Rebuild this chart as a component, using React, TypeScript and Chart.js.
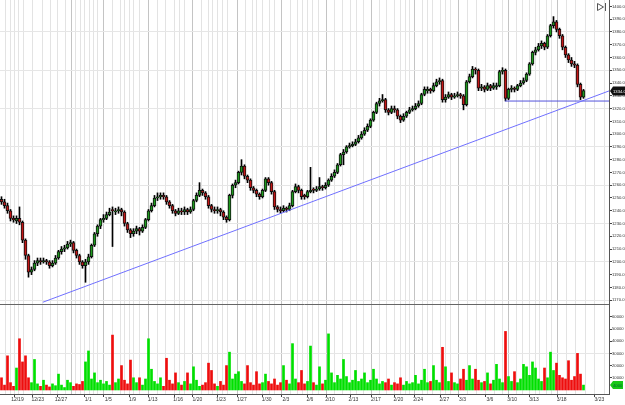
import { useEffect, useRef } from 'react';
import { Chart, registerables } from 'chart.js';

Chart.register(...registerables);

// ---- candle data (one candle per slot on the index axis) ----
const OPENS = [
  1249, 1247, 1244, 1240, 1234, 1232, 1234, 1231, 1217, 1205,
  1192, 1194, 1199, 1201, 1200, 1201, 1200, 1197, 1199, 1203,
  1208, 1210, 1211, 1214, 1215, 1209, 1205, 1200, 1197, 1200,
  1204, 1213, 1222, 1228, 1233, 1234, 1237, 1241, 1239, 1240,
  1241, 1239, 1230, 1225, 1222, 1224, 1226, 1224, 1227, 1233,
  1240, 1244, 1250, 1251, 1252, 1251, 1247, 1244, 1240, 1238,
  1240, 1239, 1241, 1239, 1241, 1248, 1252, 1256, 1254, 1251,
  1244, 1241, 1240, 1241, 1239, 1235, 1233, 1252, 1260, 1262,
  1270, 1275, 1267, 1264, 1258, 1256, 1253, 1251, 1256, 1265,
  1262, 1255, 1243, 1241, 1240, 1242, 1241, 1244, 1255, 1259,
  1256, 1252, 1251, 1255, 1257, 1256, 1257, 1259, 1258, 1260,
  1264, 1267, 1270, 1276, 1284, 1286, 1290, 1291, 1292, 1294,
  1297, 1300, 1303, 1306, 1311, 1317, 1324, 1326, 1327, 1319,
  1317, 1320, 1319, 1314, 1311, 1314, 1317, 1319, 1320, 1322,
  1324, 1331, 1334, 1335, 1334, 1338, 1341, 1342, 1327, 1329,
  1331, 1329, 1330, 1331, 1330, 1323, 1341, 1345, 1351, 1350,
  1336, 1337, 1335, 1338, 1336, 1337, 1338, 1349, 1350, 1328,
  1335, 1336, 1335, 1338, 1340, 1342, 1347, 1355, 1364, 1366,
  1369, 1371, 1368, 1377, 1385, 1388, 1382, 1377, 1368, 1362,
  1358, 1355, 1354, 1339, 1329,
];
const HIGHS = [
  1251, 1249, 1246, 1241, 1236, 1236, 1243, 1232, 1218, 1206,
  1196, 1201, 1203, 1203, 1203, 1202, 1201, 1201, 1205, 1209,
  1212, 1213, 1216, 1217, 1216, 1210, 1206, 1201, 1202, 1206,
  1214, 1223, 1229, 1234, 1237, 1239, 1242, 1243, 1242, 1243,
  1242, 1240, 1231, 1226, 1226, 1228, 1227, 1229, 1234, 1241,
  1246, 1252, 1254, 1254, 1254, 1252, 1248, 1245, 1241, 1242,
  1242, 1243, 1242, 1243, 1249, 1254, 1262, 1257, 1255, 1252,
  1245, 1243, 1243, 1242, 1240, 1236, 1253, 1261, 1264, 1271,
  1280, 1276, 1268, 1265, 1259, 1257, 1254, 1257, 1266, 1266,
  1263, 1256, 1244, 1243, 1244, 1243, 1246, 1256, 1261, 1260,
  1257, 1253, 1256, 1274, 1258, 1259, 1266, 1260, 1262, 1265,
  1269, 1272, 1277, 1285, 1288, 1291, 1293, 1294, 1296, 1299,
  1302, 1305, 1308, 1312, 1318, 1325, 1328, 1331, 1328, 1320,
  1322, 1322, 1320, 1315, 1316, 1318, 1321, 1322, 1324, 1326,
  1332, 1337, 1337, 1336, 1340, 1343, 1344, 1343, 1331, 1333,
  1332, 1332, 1333, 1332, 1331, 1342, 1347, 1353, 1352, 1351,
  1339, 1338, 1340, 1339, 1340, 1340, 1350, 1352, 1351, 1336,
  1338, 1337, 1339, 1342, 1344, 1348, 1356, 1365, 1368, 1371,
  1373, 1372, 1378, 1386, 1392, 1389, 1383, 1378, 1369, 1363,
  1360, 1357, 1355, 1340, 1335,
];
const LOWS = [
  1245, 1242, 1238, 1232, 1231, 1230, 1229, 1215, 1202, 1188,
  1190, 1193, 1197, 1198, 1199, 1198, 1195, 1196, 1198, 1202,
  1206, 1208, 1210, 1212, 1207, 1203, 1198, 1195, 1184, 1198,
  1203, 1212, 1220, 1226, 1231, 1233, 1236, 1212, 1237, 1238,
  1236, 1228, 1223, 1219, 1220, 1222, 1221, 1223, 1226, 1232,
  1239, 1243, 1248, 1249, 1249, 1245, 1242, 1238, 1236, 1237,
  1237, 1237, 1237, 1238, 1240, 1247, 1251, 1252, 1249, 1242,
  1239, 1238, 1238, 1236, 1233, 1231, 1232, 1250, 1258, 1261,
  1268, 1265, 1262, 1256, 1254, 1251, 1249, 1250, 1255, 1260,
  1253, 1241, 1239, 1238, 1239, 1239, 1240, 1243, 1254, 1254,
  1249, 1249, 1250, 1254, 1254, 1255, 1256, 1256, 1257, 1259,
  1263, 1266, 1269, 1275, 1276, 1285, 1289, 1290, 1291, 1293,
  1296, 1299, 1302, 1305, 1310, 1316, 1322, 1325, 1317, 1315,
  1316, 1317, 1312, 1309, 1310, 1313, 1316, 1318, 1319, 1321,
  1323, 1330, 1332, 1332, 1333, 1337, 1339, 1325, 1325, 1328,
  1327, 1328, 1329, 1328, 1319, 1322, 1340, 1344, 1347, 1334,
  1334, 1333, 1334, 1334, 1335, 1335, 1337, 1347, 1326, 1327,
  1333, 1333, 1334, 1337, 1339, 1341, 1346, 1354, 1362, 1365,
  1367, 1366, 1367, 1376, 1383, 1380, 1375, 1366, 1360, 1356,
  1353, 1352, 1337, 1327, 1328,
];
const CLOSES = [
  1247, 1244, 1240, 1234, 1233, 1234, 1231, 1217, 1205, 1192,
  1194, 1199, 1201, 1200, 1201, 1200, 1197, 1199, 1203, 1208,
  1210, 1211, 1214, 1215, 1209, 1205, 1200, 1197, 1200, 1204,
  1213, 1222, 1228, 1233, 1234, 1237, 1239, 1240, 1240, 1241,
  1239, 1230, 1225, 1222, 1224, 1226, 1224, 1227, 1233, 1240,
  1244, 1250, 1251, 1252, 1251, 1247, 1244, 1240, 1238, 1240,
  1239, 1241, 1239, 1241, 1248, 1252, 1256, 1254, 1251, 1244,
  1241, 1240, 1241, 1239, 1235, 1233, 1252, 1260, 1262, 1270,
  1275, 1267, 1264, 1258, 1256, 1253, 1251, 1256, 1265, 1262,
  1255, 1243, 1241, 1240, 1242, 1241, 1244, 1255, 1259, 1256,
  1251, 1251, 1255, 1256, 1256, 1257, 1259, 1258, 1260, 1264,
  1267, 1270, 1276, 1284, 1286, 1290, 1291, 1292, 1294, 1297,
  1300, 1303, 1306, 1311, 1317, 1324, 1326, 1327, 1319, 1317,
  1320, 1319, 1314, 1311, 1314, 1317, 1319, 1320, 1322, 1324,
  1331, 1335, 1335, 1334, 1338, 1341, 1342, 1327, 1329, 1331,
  1329, 1330, 1331, 1330, 1323, 1341, 1345, 1351, 1350, 1336,
  1337, 1335, 1338, 1336, 1338, 1338, 1349, 1350, 1328, 1335,
  1336, 1335, 1338, 1340, 1342, 1347, 1355, 1364, 1366, 1369,
  1371, 1368, 1377, 1385, 1388, 1382, 1377, 1368, 1362, 1358,
  1355, 1354, 1339, 1329, 1334,
];
const VOLUMES = [
  10000, 4000, 28000, 6000, 3000, 18000, 42000, 23000, 28000, 10000,
  6000, 25000, 5000, 3000, 8000, 4000, 2500, 5000, 3500, 13000,
  4000, 2000, 8000, 6000, 3000, 5000, 4500, 7000, 23000, 32000,
  9000, 14000, 6000, 8000, 5000, 7000, 4000, 45000, 6000, 9000,
  20000, 8000, 5000, 24500, 10000, 6000, 10000, 4000, 9000, 42000,
  17000, 7000, 5000, 10000, 3000, 26000, 8000, 5000, 14000, 6000,
  4000, 7000, 14000, 5000, 19000, 8000, 3000, 4000, 6000, 22000,
  16000, 5000, 3000, 7000, 4000, 20000, 31000, 9000, 13000, 15000,
  7000, 5000, 20000, 6000, 4000, 15000, 5000, 6000, 13000, 7000,
  5000, 9000, 4000, 6000, 20000, 8000, 5000, 38000, 9000, 6000,
  16000, 5000, 7000, 36000, 6000, 4000, 19000, 5000, 8000, 46000,
  14000, 6000, 12000, 9000, 25000, 11000, 6000, 8000, 16000, 7000,
  9000, 14000, 6000, 8000, 17000, 9000, 5000, 7000, 6000, 9000,
  4000, 6000, 5000, 10000, 4000, 7000, 5000, 6000, 12000, 5000,
  8000, 17000, 6000, 7000, 20000, 8000, 6000, 35000, 19000, 7000,
  14000, 6000, 5000, 9000, 17000, 8000, 20000, 9000, 17000, 8000,
  6000, 7000, 14000, 5000, 8000, 21000, 9000, 6000, 48000, 11000,
  7000, 15000, 6000, 9000, 21000, 19000, 12000, 23000, 18000, 9000,
  7000, 18000, 10000, 31000, 16000, 22000, 12000, 10000, 9000, 24000,
  8000, 11000, 30000, 13000, 4000,
];

// ---- session boundaries (in candle-slot units) and date labels ----
const SESSION_LINES = [
  0.9, 3.0, 3.7, 5.8, 6.7, 9.1, 12.6, 15.6, 18.1, 20.3, 23.3, 24.1, 26.3, 27.2,
  29.4, 30.0, 32.2, 33.1, 36.1, 38.9, 41.1, 42.0, 44.2, 45.0, 47.8, 50.9, 53.9,
  56.7, 59.4, 60.0, 62.8, 65.8, 68.3, 70.6, 71.3, 73.6, 74.4, 77.4, 80.6, 83.3,
  84.8, 86.4, 88.9, 90.6, 92.2, 95.3, 98.1, 100.0, 101.4, 103.3, 105.0, 107.6,
  110.0, 112.8, 115.6, 117.8, 120.0, 122.2, 125.3, 127.6, 130.0, 132.8, 133.9,
  136.1, 137.2, 139.4, 142.0, 142.8, 145.3, 148.1, 148.7, 151.7, 154.2, 157.2,
  160.3, 163.3, 166.1, 168.6, 170.7, 173.3, 175.0, 178.0, 178.7, 181.1, 183.3,
  184.4, 187.2, 190.3, 193.6, 196.7, 199.8,
];
const WEEK_LINES = [24.1, 36.1, 50.9, 65.8, 80.6, 95.3, 110.0, 125.3, 139.4, 154.2, 170.7, 187.2];
const DATE_TICKS = [
  5.8, 12.6, 20.3, 29.4, 36.1, 44.2, 50.9, 59.4, 65.8, 73.6, 80.6, 88.9, 95.3,
  103.3, 110.0, 117.8, 125.3, 132.8, 139.4, 148.1, 154.2, 163.3, 170.7, 178.0, 187.2, 199.8,
];
const DATE_LABELS = [
  '12/19', '12/23', '12/27', '1/1', '1/5', '1/9', '1/13', '1/16', '1/20', '1/23', '1/27', '1/30', '2/3',
  '2/6', '2/10', '2/13', '2/17', '2/20', '2/24', '2/27', '3/3', '3/6', '3/10', '3/13', '3/18', '3/23',
];

// ---- axes ----
const X_MAX = 203;
const PRICE_MIN = 1167;
const PRICE_MAX = 1405;
const PRICE_TICKS = [
  1170, 1180, 1190, 1200, 1210, 1220, 1230, 1240, 1250, 1260, 1270, 1280,
  1290, 1300, 1310, 1320, 1330, 1340, 1350, 1360, 1370, 1380, 1390, 1400,
];
const PRICE_GRID = [1170, 1200, 1230, 1260, 1290, 1320, 1350, 1380];
const VOLUME_MIN = -3300;
const VOLUME_MAX = 70500;
const VOLUME_TICKS = [10000, 20000, 30000, 40000, 50000, 60000];
const VOLUME_GRID = [30000];

// ---- drawn lines ----
const TREND_X = [14.3, 203];
const TREND_Y = [1168.4, 1333.8];
const SUPPORT_X = [168.3, 203];
const SUPPORT_Y = [1325.9, 1325.9];

const FONT_X = { family: '"Liberation Sans", Arial, sans-serif', size: 5 };
const FONT_Y = { family: '"Liberation Sans", Arial, sans-serif', size: 4.2 };
const UP_BODY = '#1f9a1f';
const DOWN_BODY = '#c41818';
const UP_VOL = '#00e000';
const DOWN_VOL = '#ee0e0e';

const isUp = (i: number) => CLOSES[i] >= OPENS[i];

const overlayPlugin = {
  id: 'overlay',
  afterDraw(chart: any) {
    const ctx = chart.ctx as CanvasRenderingContext2D;
    const area = chart.chartArea;
    const yP = chart.scales.y;
    const yV = chart.scales.y2;
    const lastClose = CLOSES[CLOSES.length - 1];
    const lastVol = VOLUMES[VOLUMES.length - 1];
    ctx.save();
    ctx.font = '4.2px "Liberation Sans", Arial, sans-serif';
    ctx.textBaseline = 'middle';
    // current price marker
    const py = Math.round(yP.getPixelForValue(lastClose));
    const x0 = area.right + 1;
    ctx.fillStyle = '#111';
    ctx.beginPath();
    ctx.moveTo(x0, py);
    ctx.lineTo(x0 + 3, py - 4.5);
    ctx.lineTo(625, py - 4.5);
    ctx.lineTo(625, py + 4.5);
    ctx.lineTo(x0 + 3, py + 4.5);
    ctx.closePath();
    ctx.fill();
    ctx.fillStyle = '#fff';
    ctx.fillText(lastClose.toFixed(1), x0 + 3, py + 0.5);
    // current volume marker
    const vy = Math.round(yV.getPixelForValue(lastVol));
    ctx.fillStyle = '#18c818';
    ctx.beginPath();
    ctx.moveTo(x0, vy);
    ctx.lineTo(x0 + 3, vy - 4);
    ctx.lineTo(623, vy - 4);
    ctx.lineTo(623, vy + 4);
    ctx.lineTo(x0 + 3, vy + 4);
    ctx.closePath();
    ctx.fill();
    ctx.fillStyle = '#063';
    ctx.fillText(String(lastVol), x0 + 3, vy + 0.5);
    // "scroll to end" icon
    ctx.strokeStyle = '#555';
    ctx.lineWidth = 1;
    ctx.beginPath();
    ctx.moveTo(597.5, 3.5);
    ctx.lineTo(603.5, 7);
    ctx.lineTo(597.5, 10.5);
    ctx.closePath();
    ctx.moveTo(605.5, 3);
    ctx.lineTo(605.5, 11);
    ctx.stroke();
    ctx.restore();
  },
};

export default function App() {
  const ref = useRef<HTMLCanvasElement>(null);

  useEffect(() => {
    if (!ref.current) return;
    const idx = CLOSES.map((_, i) => i);
    const chart = new Chart(ref.current, {
      type: 'bar',
      data: {
        datasets: [
          {
            type: 'line',
            label: 'Trend',
            data: TREND_X.map((x, i) => ({ x, y: TREND_Y[i] })),
            yAxisID: 'y',
            borderColor: 'rgb(112,112,255)',
            borderWidth: 1,
            pointRadius: 0,
            order: 0,
          } as any,
          {
            type: 'line',
            label: 'Support',
            data: SUPPORT_X.map((x, i) => ({ x, y: SUPPORT_Y[i] })),
            yAxisID: 'y',
            borderColor: 'rgb(84,84,220)',
            borderWidth: 1,
            pointRadius: 0,
            order: 0,
          } as any,
          {
            type: 'bar',
            label: 'Body',
            data: idx.map((i) => ({ x: i + 0.5, y: [OPENS[i], CLOSES[i]] })),
            yAxisID: 'y',
            backgroundColor: idx.map((i) => (isUp(i) ? UP_BODY : DOWN_BODY)),
            borderColor: '#111',
            borderWidth: 1,
            borderSkipped: false,
            barThickness: 3,
            minBarLength: 1,
            grouped: false,
            order: 1,
          } as any,
          {
            type: 'bar',
            label: 'Wick',
            data: idx.map((i) => ({ x: i + 0.5, y: [LOWS[i], HIGHS[i]] })),
            yAxisID: 'y',
            backgroundColor: '#000',
            barThickness: 1,
            grouped: false,
            order: 2,
          } as any,
          {
            type: 'bar',
            label: 'Volume',
            data: idx.map((i) => ({ x: i + 0.5, y: VOLUMES[i] })),
            yAxisID: 'y2',
            backgroundColor: idx.map((i) => (isUp(i) ? UP_VOL : DOWN_VOL)),
            barThickness: 2,
            grouped: false,
            order: 3,
          } as any,
        ],
      },
      options: {
        responsive: false,
        animation: false,
        devicePixelRatio: 1,
        layout: { padding: 0 },
        plugins: { legend: { display: false }, tooltip: { enabled: false } },
        scales: {
          x: {
            type: 'linear',
            position: 'bottom',
            min: 0,
            max: X_MAX,
            offset: false,
            afterBuildTicks: (scale: any) => {
              scale.ticks = SESSION_LINES.map((v) => ({ value: v }));
            },
            afterFit: (scale: any) => {
              scale.height = 11;
              scale.paddingLeft = 0;
              scale.paddingRight = 0;
            },
            ticks: {
              autoSkip: false,
              maxRotation: 0,
              minRotation: 0,
              padding: 0,
              color: '#333',
              font: FONT_X,
              callback: (v: any) => {
                const k = DATE_TICKS.indexOf(Number(v));
                return k >= 0 ? DATE_LABELS[k] : '';
              },
            },
            grid: {
              color: (c: any) => (WEEK_LINES.includes(c.tick?.value) ? '#c4c4c4' : '#e3e3e3'),
              tickColor: (c: any) => (DATE_TICKS.includes(c.tick?.value) ? '#444' : 'rgba(0,0,0,0)'),
              tickLength: 3,
              lineWidth: 1,
            },
            border: { display: true, color: '#555' },
          },
          y: {
            type: 'linear',
            position: 'right',
            stack: 'panels',
            stackWeight: 304,
            min: PRICE_MIN,
            max: PRICE_MAX,
            afterBuildTicks: (scale: any) => {
              scale.ticks = [PRICE_MIN, ...PRICE_TICKS].map((v) => ({ value: v }));
            },
            afterFit: (scale: any) => {
              scale.width = 16;
              scale.paddingTop = 0;
              scale.paddingBottom = 0;
            },
            ticks: {
              autoSkip: false,
              padding: 0,
              color: '#333',
              font: FONT_Y,
              callback: (v: any) => (Number(v) === PRICE_MIN ? '' : Number(v).toFixed(1)),
            },
            grid: {
              color: (c: any) => {
                const v = c.tick?.value;
                if (v === PRICE_MIN) return '#666';
                return PRICE_GRID.includes(v) ? '#e6e6e6' : 'rgba(0,0,0,0)';
              },
              tickColor: (c: any) => (c.tick?.value === PRICE_MIN ? 'rgba(0,0,0,0)' : '#444'),
              tickLength: 3,
              lineWidth: 1,
            },
            border: { display: true, color: '#555' },
          },
          y2: {
            type: 'linear',
            position: 'right',
            stack: 'panels',
            stackWeight: 90,
            min: VOLUME_MIN,
            max: VOLUME_MAX,
            afterBuildTicks: (scale: any) => {
              scale.ticks = VOLUME_TICKS.map((v) => ({ value: v }));
            },
            afterFit: (scale: any) => {
              scale.width = 16;
              scale.paddingTop = 0;
              scale.paddingBottom = 0;
            },
            ticks: {
              autoSkip: false,
              padding: 0,
              color: '#333',
              font: FONT_Y,
              callback: (v: any) => String(v),
            },
            grid: {
              color: (c: any) => (VOLUME_GRID.includes(c.tick?.value) ? '#e6e6e6' : 'rgba(0,0,0,0)'),
              tickColor: '#444',
              tickLength: 3,
              lineWidth: 1,
            },
            border: { display: true, color: '#555' },
          },
        },
      } as any,
      plugins: [overlayPlugin],
    });
    return () => chart.destroy();
  }, []);

  return (
    <div style={{ position: 'fixed', left: 0, top: 0, width: 625, height: 405, background: '#fff' }}>
      <canvas ref={ref} width={625} height={405} style={{ display: 'block', width: 625, height: 405 }} />
    </div>
  );
}
